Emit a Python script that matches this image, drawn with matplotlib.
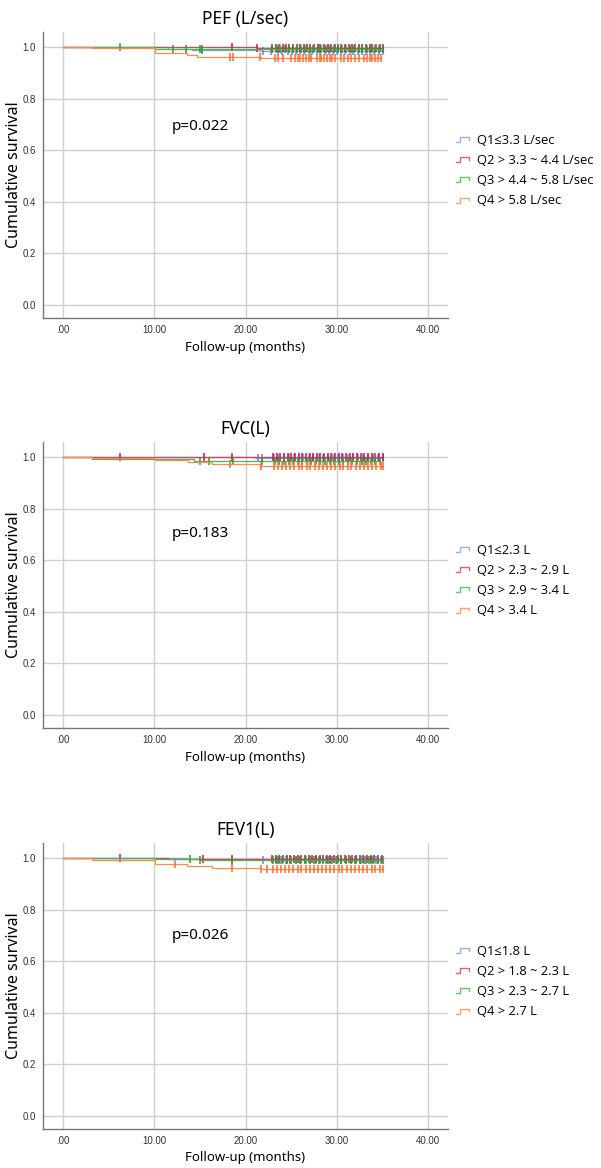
import numpy as np
import matplotlib
matplotlib.use("Agg")
import matplotlib.pyplot as plt
from matplotlib.legend_handler import HandlerBase
from matplotlib.lines import Line2D

# ---------------- data ----------------
panel_titles = ["PEF (L/sec)", "FVC(L)", "FEV1(L)"]
p_values = ["p=0.022", "p=0.183", "p=0.026"]
legend_labels = [
    ["Q1≤3.3 L/sec", "Q2 > 3.3 ~ 4.4 L/sec", "Q3 > 4.4 ~ 5.8 L/sec", "Q4 > 5.8 L/sec"],
    ["Q1≤2.3 L", "Q2 > 2.3 ~ 2.9 L", "Q3 > 2.9 ~ 3.4 L", "Q4 > 3.4 L"],
    ["Q1≤1.8 L", "Q2 > 1.8 ~ 2.3 L", "Q3 > 2.3 ~ 2.7 L", "Q4 > 2.7 L"],
]
x_ticks = [0, 10, 20, 30, 40]
x_ticklabels = [".00", "10.00", "20.00", "30.00", "40.00"]
y_ticks = [0.0, 0.2, 0.4, 0.6, 0.8, 1.0]

# PEF event times / survival after event
pef_q1_t = [11.5, 14.1, 21.6]
pef_q1_s = [0.993, 0.988, 0.986]
pef_q2_t = [21.3]
pef_q2_s = [0.997]
pef_q3_t = [3.2, 10.1]
pef_q3_s = [0.998, 0.994]
pef_q4_t = [3.2, 10.1, 13.6, 14.7, 21.7]
pef_q4_s = [0.995, 0.976, 0.970, 0.962, 0.957]

pef_q1_c = [15.2, 21.9, 22.8, 23.5, 24.0, 24.6, 25.1, 25.5, 26.0, 26.4, 26.9, 27.3, 27.8,
            28.2, 28.7, 29.1, 29.6, 30.0, 30.5, 30.9, 31.4, 31.8, 32.3, 32.7, 33.2, 33.6,
            34.1, 34.6, 35.0]
pef_q2_c = [18.5, 21.3, 22.9, 23.3, 23.7, 24.1, 24.4, 24.8, 25.2, 25.6, 26.0, 26.4, 26.7,
            27.1, 27.5, 27.9, 28.2, 28.6, 29.0, 29.4, 29.8, 30.1, 30.5, 30.9, 31.3, 31.7,
            32.0, 32.4, 32.8, 33.2, 33.6, 33.9, 34.3, 34.7, 35.0]
pef_q3_c = [6.2, 12.0, 13.5, 15.0, 15.2, 22.9, 23.4, 23.8, 24.3, 24.7, 25.2, 25.6, 26.1,
            26.5, 27.0, 27.4, 27.9, 28.3, 28.8, 29.2, 29.7, 30.1, 30.6, 31.0, 31.5, 31.9,
            32.4, 32.8, 33.3, 33.7, 34.2, 34.6, 35.0]
pef_q4_c = [18.3, 18.6, 21.6, 23.2, 23.6, 24.1, 25.0, 25.4, 25.7, 26.0, 26.3, 26.6, 26.9,
            27.2, 27.8, 28.1, 28.3, 28.6, 28.9, 29.2, 29.5, 29.8, 30.4, 30.8, 31.2, 31.6,
            32.0, 32.4, 33.0, 33.3, 33.6, 33.9, 34.2, 34.5, 34.8]

# FVC
fvc_q1_t = [21.0]
fvc_q1_s = [0.995]
fvc_q2_t = []
fvc_q2_s = []
fvc_q3_t = [3.2, 14.4]
fvc_q3_s = [0.991, 0.985]
fvc_q4_t = [3.2, 10.1, 13.7, 16.3, 21.6]
fvc_q4_s = [0.996, 0.988, 0.982, 0.973, 0.965]

fvc_q1_c = [21.4, 21.8, 23.1, 23.6, 24.2, 24.7, 25.3, 25.8, 26.3, 26.9, 27.4, 28.0, 28.5,
            29.0, 29.6, 30.1, 30.7, 31.2, 31.8, 32.3, 32.9, 33.4, 34.0, 34.5, 35.0]
fvc_q2_c = [6.2, 15.4, 18.5, 23.0, 23.4, 23.8, 24.2, 24.6, 25.0, 25.4, 25.8, 26.2, 26.6,
            27.0, 27.4, 27.8, 28.2, 28.6, 29.0, 29.4, 29.8, 30.2, 30.6, 31.0, 31.4, 31.8,
            32.2, 32.6, 33.0, 33.4, 33.8, 34.2, 34.6, 35.0]
fvc_q3_c = [15.0, 16.0, 18.6, 21.8, 23.2, 23.7, 24.2, 24.7, 25.2, 25.7, 26.2, 26.7, 27.2,
            27.7, 28.2, 28.7, 29.2, 29.7, 30.2, 30.7, 31.2, 31.7, 32.2, 32.7, 33.2, 33.7,
            34.2, 34.7]
fvc_q4_c = [18.3, 21.7, 23.1, 23.5, 24.0, 24.4, 24.9, 25.3, 25.8, 26.2, 26.7, 27.1, 27.6,
            28.0, 28.5, 28.9, 29.4, 29.8, 30.3, 30.7, 31.2, 31.6, 32.1, 32.5, 33.0, 33.4,
            33.9, 34.3, 34.8, 35.1]

# FEV1
fev_q1_t = [13.5, 21.5]
fev_q1_s = [0.996, 0.993]
fev_q2_t = [11.5]
fev_q2_s = [0.997]
fev_q3_t = [10.1, 15.0]
fev_q3_s = [0.996, 0.994]
fev_q4_t = [3.2, 10.1, 13.6, 16.3, 21.7]
fev_q4_s = [0.994, 0.977, 0.970, 0.961, 0.956]

fev_q1_c = [21.9, 23.3, 23.8, 24.4, 24.9, 25.5, 26.0, 26.6, 27.1, 27.7, 28.2, 28.8, 29.3,
            29.9, 30.4, 31.0, 31.5, 32.1, 32.6, 33.2, 33.7, 34.3, 34.8]
fev_q2_c = [6.2, 15.3, 18.5, 22.9, 23.3, 23.7, 24.1, 24.5, 24.9, 25.3, 25.7, 26.1, 26.5,
            26.9, 27.3, 27.7, 28.1, 28.5, 28.9, 29.3, 29.7, 30.1, 30.5, 30.9, 31.3, 31.7,
            32.1, 32.5, 32.9, 33.3, 33.7, 34.1, 34.5, 34.9]
fev_q3_c = [13.9, 15.0, 18.5, 23.0, 23.5, 24.0, 24.5, 25.0, 25.5, 26.0, 26.5, 27.0, 27.5,
            28.0, 28.5, 29.0, 29.5, 30.0, 30.5, 31.0, 31.5, 32.0, 32.5, 33.0, 33.5, 34.0,
            34.5, 35.0]
fev_q4_c = [12.3, 18.5, 21.7, 22.3, 23.0, 23.4, 23.9, 24.3, 24.8, 25.2, 25.7, 26.1, 26.6,
            27.0, 27.5, 27.9, 28.4, 28.8, 29.3, 29.7, 30.2, 30.6, 31.1, 31.5, 32.0, 32.4,
            32.9, 33.3, 33.8, 34.2, 34.7, 35.0]

panels = [
    [(pef_q1_t, pef_q1_s, pef_q1_c), (pef_q2_t, pef_q2_s, pef_q2_c),
     (pef_q3_t, pef_q3_s, pef_q3_c), (pef_q4_t, pef_q4_s, pef_q4_c)],
    [(fvc_q1_t, fvc_q1_s, fvc_q1_c), (fvc_q2_t, fvc_q2_s, fvc_q2_c),
     (fvc_q3_t, fvc_q3_s, fvc_q3_c), (fvc_q4_t, fvc_q4_s, fvc_q4_c)],
    [(fev_q1_t, fev_q1_s, fev_q1_c), (fev_q2_t, fev_q2_s, fev_q2_c),
     (fev_q3_t, fev_q3_s, fev_q3_c), (fev_q4_t, fev_q4_s, fev_q4_c)],
]

# ---------------- style ----------------
line_colors = ["#7aa3e8", "#d9416b", "#4cb84c", "#ff8a4c"]
mark_colors = ["#5a8de6", "#d0134d", "#2e9e2e", "#ff6a26"]
legend_colors = ["#8fb2ef", "#e0607e", "#60c860", "#f9a070"]

TXT = ["Noto Sans", "DejaVu Sans"]
LEG = ["Open Sans", "Noto Sans", "DejaVu Sans"]
TICK = ["Liberation Sans", "DejaVu Sans"]

W, H = 601, 1168
fig = plt.figure(figsize=(W / 100, H / 100), dpi=100)


class StepHandler(HandlerBase):
    def create_artists(self, legend, orig_handle, xdescent, ydescent, width, height,
                       fontsize, trans):
        x0 = -xdescent
        y0 = -ydescent
        xs = [x0, x0 + 0.3 * width, x0 + 0.3 * width, x0 + 0.9 * width, x0 + 0.9 * width]
        ys = [y0 + 0.2 * height, y0 + 0.2 * height, y0 + 0.75 * height,
              y0 + 0.75 * height, y0 + 0.45 * height]
        ln = Line2D(xs, ys, color=orig_handle.get_color(), lw=1.0, transform=trans)
        return [ln]


tops = [32, 442, 843]
for k in range(3):
    top = tops[k]
    bottom = top + 286
    ax = fig.add_axes([43 / W, (H - bottom) / H, 405 / W, 286 / H])
    ax.set_xlim(-2.19, 42.17)
    ax.set_ylim(-0.05, 1.058)
    for sp in ["top", "right"]:
        ax.spines[sp].set_visible(False)
    for sp in ["left", "bottom"]:
        ax.spines[sp].set_color("#777777")
        ax.spines[sp].set_linewidth(1.0)
    ax.set_xticks(x_ticks)
    ax.set_xticklabels(x_ticklabels)
    ax.set_yticks(y_ticks)
    ax.set_yticklabels([f"{v:.1f}" for v in y_ticks])
    ax.tick_params(length=0, labelsize=7, colors="#333333", pad=5)
    for lab in ax.get_xticklabels() + ax.get_yticklabels():
        lab.set_family(TICK)
    ax.grid(True, color="#cfcfcf", lw=1.0)
    ax.set_axisbelow(True)

    handles = []
    for g, (t, s, c) in enumerate(panels[k]):
        end = max(c)
        tt = np.array([0.0] + list(t) + [end])
        ss = np.array([1.0] + list(s) + [s[-1] if len(s) else 1.0])
        ax.step(tt, ss, where="post", color=line_colors[g], lw=0.9, zorder=3 + g)
        cc = np.array(c)
        idx = np.searchsorted(tt, cc, side="right") - 1
        ax.plot(cc, ss[idx], ls="none", marker="|", ms=5.5, mew=1.1,
                color=mark_colors[g], zorder=3 + g)
        handles.append(Line2D([], [], color=legend_colors[g]))

    ax.set_title(panel_titles[k], family=TXT, fontsize=12.5, pad=6)
    ax.set_ylabel("Cumulative survival", family=TXT, fontsize=11.5)
    ax.yaxis.set_label_coords(-0.053, 0.5)
    ax.set_xlabel("Follow-up (months)", family=TXT, fontsize=9.5, labelpad=4)
    ax.text(11.9, [0.69, 0.705, 0.70][k], p_values[k], family=TXT, fontsize=11,
            va="center", ha="left")
    leg = ax.legend(handles, legend_labels[k], loc="center left",
                    bbox_to_anchor=(1.02, 0.515), frameon=False, borderpad=0,
                    handlelength=1.1, handletextpad=0.5, labelspacing=0.55,
                    borderaxespad=0,
                    prop={"family": LEG, "size": 9.3},
                    handler_map={Line2D: StepHandler()})

fig.savefig("out.png", dpi=100)
